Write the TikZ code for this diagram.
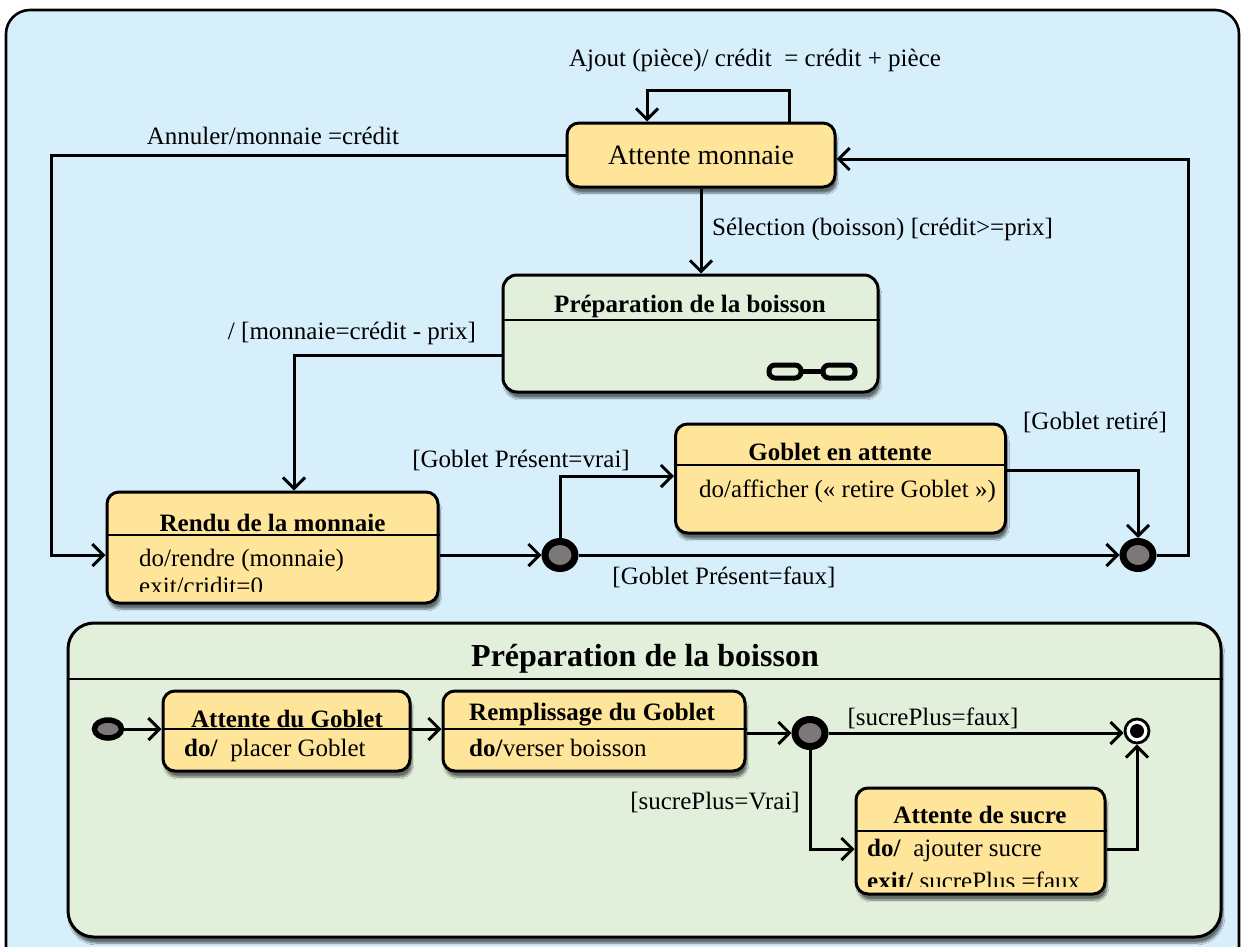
\documentclass[tikz,border=0pt]{standalone}
\usepackage{fontspec}
\setmainfont{Liberation Serif}
\usetikzlibrary{arrows.meta,shadows.blur,shapes.geometric}
\definecolor{bgblue}{RGB}{215,239,251}
\definecolor{stfill}{RGB}{255,229,153}
\definecolor{cmpfill}{RGB}{226,239,218}
\definecolor{pseudogray}{RGB}{125,120,120}

\begin{document}
\begin{tikzpicture}[x=1pt,y=-1pt,
  every node/.style={inner sep=0pt},
  lbl/.style={font=\fontsize{25}{28}\selectfont},
  ttl/.style={font=\bfseries\fontsize{25}{28}\selectfont, anchor=base},
  bodytxt/.style={font=\fontsize{25}{28}\selectfont, anchor=base west},
  softshadow/.style={blur shadow={shadow xshift=2pt, shadow yshift=-6pt,
      shadow blur steps=7, shadow opacity=55}},
  statebox/.style={draw, line width=3pt, rounded corners=12pt, fill=stfill,
      rectangle, softshadow},
  compbox/.style={draw, line width=3pt, rounded corners=14pt, fill=cmpfill,
      rectangle, softshadow},
  junction/.style={ellipse, draw, line width=7pt, fill=pseudogray,
      minimum width=30pt, minimum height=27pt},
  conn/.style={line width=3pt},
  arr/.style={conn, -{Straight Barb[length=11pt, width=22pt]}},
  sepline/.style={line width=2.6pt}
]
\useasboundingbox (0,0) rectangle (1243,946);
\clip (0,0) rectangle (1243,946);
\fill[white] (0,0) rectangle (1243,946);

% outer frame of the machine
\draw[fill=bgblue, line width=2.6pt, rounded corners=24pt] (6,10) rectangle (1239,980);

% ---------------- upper level states ----------------
\node[statebox, minimum width=268pt, minimum height=64pt,
      font=\fontsize{28}{32}\selectfont] (monnaie) at (701,155) {Attente monnaie};

\node[compbox, minimum width=375pt, minimum height=117pt] (prep) at (690.5,333.5) {};
\node[ttl] (prept) at (690,312) {Préparation de la boisson};
\draw[sepline] (prep.west |- 0,320) -- (prep.east |- 0,320);
% composite-state icon
\draw[line width=5pt, rounded corners=6pt] (769,365) rectangle (801,378);
\draw[line width=5pt, rounded corners=6pt] (823,365) rectangle (855,378);
\draw[line width=5pt] (801,371.5) -- (823,371.5);

\node[statebox, minimum width=331pt, minimum height=111pt] (rendu) at (272.5,547.5) {};
\node[ttl] (rendut) at (272.5,531) {Rendu de la monnaie};
\draw[sepline] (rendu.west |- 0,535) -- (rendu.east |- 0,535);
\begin{scope}
  \clip (108,537) rectangle (437,591);
  \node[bodytxt] (rendub1) at (139,566) {do/rendre (monnaie)};
  \node[bodytxt] (rendub2) at (139,594) {exit/cridit=0};
\end{scope}

\node[statebox, minimum width=330pt, minimum height=109pt] (goblet) at (840.5,478.5) {};
\node[ttl] (goblett) at (840,460) {Goblet en attente};
\draw[sepline] (goblet.west |- 0,465) -- (goblet.east |- 0,465);
\node[bodytxt] (gobletb) at (699,497) {do/afficher (« retire Goblet »)};

\node[junction] (jn1) at (560,555) {};
\node[junction] (jn2) at (1138,555) {};

% ---------------- upper level transitions ----------------
\coordinate (loopA) at (789,90);
\coordinate (loopB) at (647,90);
\draw[arr] (monnaie.north -| loopA) -- (loopA) -- (loopB) -- (monnaie.north -| loopB);
\node[lbl] (lajout) at (755,60) {Ajout (pièce)/ crédit\ \ = crédit + pièce};

\coordinate (annA) at (51,155);
\draw[arr] (monnaie.west) -- (annA) |- (rendu.west |- jn1);
\node[lbl] (lannul) at (273,136) {Annuler/monnaie =crédit};

\draw[arr] (monnaie.south) -- (monnaie.south |- prep.north);
\node[lbl, anchor=west] (lsel) at (712,229) {Sélection (boisson) [crédit>=prix]};

\coordinate (pr) at (294,355);
\draw[arr] (prep.west |- pr) -- (pr) -- (pr |- rendu.north);
\node[lbl] (lmonn) at (352,333) {/ [monnaie=crédit - prix]};

\draw[arr] (rendu.east |- jn1) -- (jn1.west);

\coordinate (gv) at (560,476);
\draw[arr] (jn1.north) -- (gv) -- (goblet.west |- gv);
\node[lbl] (lvrai) at (521,460) {[Goblet Présent=vrai]};

\draw[arr] (jn1.east) -- (jn2.west);
\node[lbl] (lfaux) at (724,577) {[Goblet Présent=faux]};

\coordinate (gr) at (1138,470);
\draw[arr] (goblet.east |- gr) -- (gr) -- (jn2.north);
\node[lbl] (lretire) at (1095,422) {[Goblet retiré]};

\coordinate (retA) at (1188,159);
\draw[arr] (jn2.east) -- (retA |- jn2) -- (retA) -- (monnaie.east |- retA);

% ---------------- composite state detail ----------------
\node[compbox, rounded corners=26pt, minimum width=1153pt, minimum height=314pt] (comp) at (644.5,780) {};
\node[ttl, font=\bfseries\fontsize{32}{36}\selectfont] (compt) at (645,666) {Préparation de la boisson};
\draw[sepline] (comp.west |- 0,679) -- (comp.east |- 0,679);

\node[ellipse, draw, line width=5.5pt, fill=pseudogray, minimum width=27pt,
      minimum height=18pt] (init) at (108,729) {};

\node[statebox, minimum width=247pt, minimum height=80pt] (attg) at (286.5,731) {};
\node[ttl] (attgt) at (287,727) {Attente du Goblet};
\draw[sepline] (attg.west |- 0,729) -- (attg.east |- 0,729);
\node[bodytxt] (attgb) at (184,756) {\textbf{do/}\ \ placer Goblet};

\node[statebox, minimum width=302pt, minimum height=80pt] (rempl) at (594,731) {};
\node[ttl, anchor=base west] (remplt) at (469,720) {Remplissage du Goblet};
\draw[sepline] (rempl.west |- 0,729) -- (rempl.east |- 0,729);
\node[bodytxt] (remplb) at (469,756) {\textbf{do/}verser boisson};

\node[junction] (jn3) at (810,733) {};

\node[circle, draw, line width=2.8pt, fill=white, minimum size=24pt] (fin) at (1137,731) {};
\node[circle, fill=black, minimum size=14pt] (findot) at (fin.center) {};

\node[statebox, minimum width=249pt, minimum height=106pt] (sucre) at (980.5,841) {};
\node[ttl] (sucret) at (980,823) {Attente de sucre};
\draw[sepline] (sucre.west |- 0,831) -- (sucre.east |- 0,831);
\begin{scope}
  \clip (857,833) rectangle (1125,886);
  \node[bodytxt] (sucreb1) at (867,856) {\textbf{do/}\ \ ajouter sucre};
  \node[bodytxt] (sucreb2) at (867,889) {\textbf{exit/} sucrePlus =faux};
\end{scope}

% composite transitions
\draw[arr] (init.east) -- (attg.west |- init);
\draw[arr] (attg.east |- init) -- (rempl.west |- init);
\draw[arr] (rempl.east |- jn3) -- (jn3.west);
\draw[arr] (jn3.east) -- (fin.west |- jn3);
\node[lbl] (lsfaux) at (933,718) {[sucrePlus=faux]};

\coordinate (sv) at (810,849);
\draw[arr] (jn3.south) -- (sv) -- (sucre.west |- sv);
\node[lbl, anchor=east] (lsvrai) at (800,802) {[sucrePlus=Vrai]};

\draw[arr] (sucre.east |- sv) -- (fin |- sv) -- (fin.south);
\end{tikzpicture}
\end{document}
